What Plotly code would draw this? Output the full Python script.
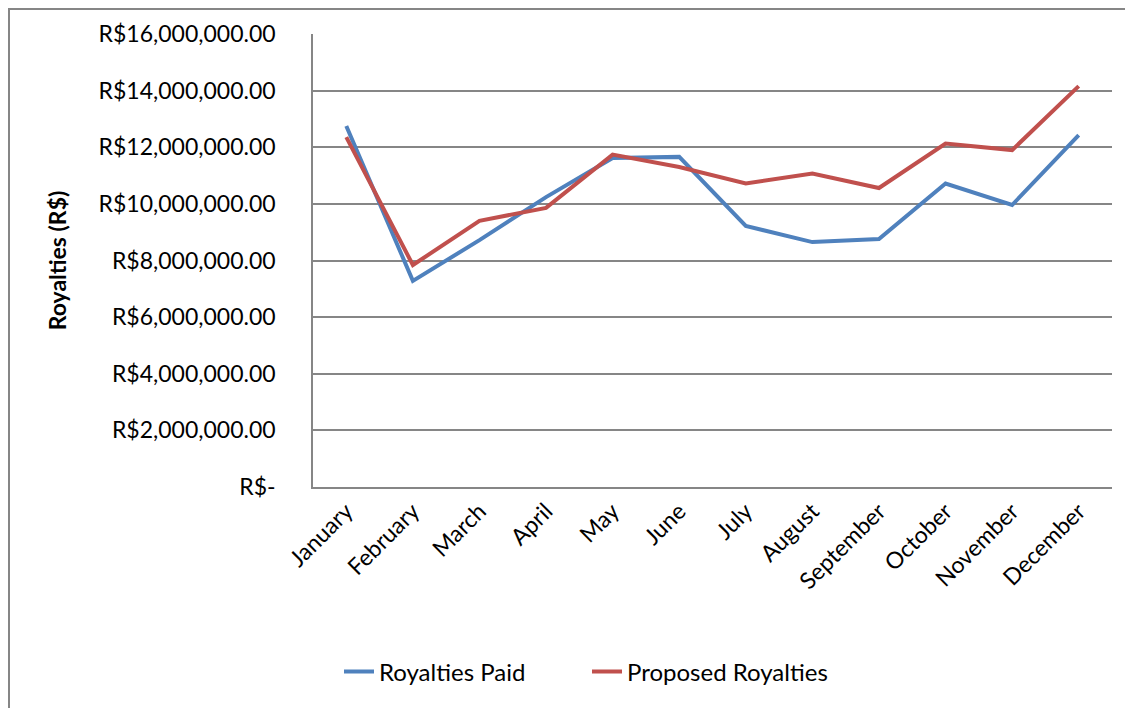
import plotly.graph_objects as go

months = ["January", "February", "March", "April", "May", "June", "July",
          "August", "September", "October", "November", "December"]
royalties_paid = [12.75e6, 7.28e6, 8.72e6, 10.24e6, 11.62e6, 11.66e6, 9.22e6,
                  8.65e6, 8.76e6, 10.72e6, 9.96e6, 12.43e6]
proposed_royalties = [12.36e6, 7.84e6, 9.40e6, 9.86e6, 11.74e6, 11.30e6, 10.72e6,
                      11.07e6, 10.56e6, 12.13e6, 11.90e6, 14.16e6]
y_tickvals = [0, 2e6, 4e6, 6e6, 8e6, 10e6, 12e6, 14e6, 16e6]
y_ticktext = ["R$-", "R$2,000,000.00", "R$4,000,000.00", "R$6,000,000.00",
              "R$8,000,000.00", "R$10,000,000.00", "R$12,000,000.00",
              "R$14,000,000.00", "R$16,000,000.00"]

FONT = "Lato"
# page body has an 8px offset; plot area targeted at x 313-1112, y 34-487 on screen
L, R, T, B = 305, 29, 26, 229
PW = 1133 - L - R
PH = 708 - T - B

fig = go.Figure()
fig.add_trace(go.Scatter(x=months, y=royalties_paid, mode="lines", name="Royalties Paid",
                         line=dict(color="#4F81BD", width=4)))
fig.add_trace(go.Scatter(x=months, y=proposed_royalties, mode="lines", name="Proposed Royalties",
                         line=dict(color="#C0504D", width=4)))

fig.update_layout(
    width=1133, height=708,
    margin=dict(l=L, r=R, t=T, b=B),
    plot_bgcolor="white", paper_bgcolor="white",
    font=dict(family=FONT, size=23, color="black"),
    showlegend=True,
    legend=dict(orientation="h", x=(321 - 8 - L + 18) / PW, xanchor="left",
                y=(487 - 672) / PH, yanchor="middle",
                font=dict(size=24), tracegroupgap=0,
                entrywidth=203, entrywidthmode="pixels"),
    xaxis=dict(type="category", showgrid=False, showline=True, linecolor="#868686",
               linewidth=1.5, tickangle=-45, ticks="", tickfont=dict(size=23),
               range=[-0.5, 11.5]),
    yaxis=dict(range=[0, 16e6], tickvals=y_tickvals, ticktext=y_ticktext,
               showgrid=True, gridcolor="#868686", gridwidth=1.5, showline=True,
               linecolor="#868686", linewidth=1.5, zeroline=False, ticks="",
               ticklabelstandoff=31, tickfont=dict(size=23),
               title=dict(text="<b>Royalties (R$)</b>", font=dict(size=23), standoff=26)),
    shapes=[dict(type="rect", xref="paper", yref="paper",
                 x0=(1 - L) / PW, x1=1.2, y0=-1.0, y1=(708 - B - 1) / PH,
                 line=dict(color="#868686", width=2), fillcolor="rgba(0,0,0,0)", layer="below")],
)
fig.write_html("out.html")
